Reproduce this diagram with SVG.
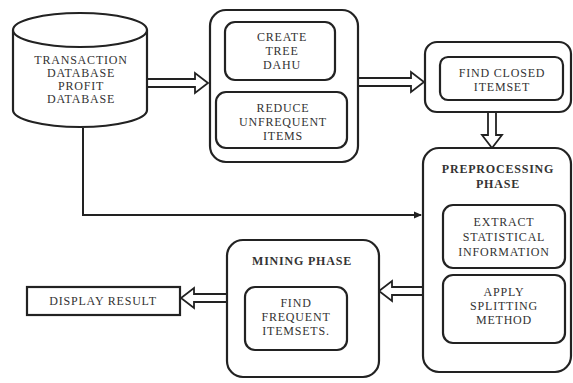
<svg xmlns="http://www.w3.org/2000/svg" width="573" height="383" viewBox="0 0 573 383">
<style>
.box{fill:#fff;stroke:#222;stroke-width:2.2}
.t{font-family:"Liberation Serif","Times New Roman",serif;font-size:12px;letter-spacing:0.8px;fill:#333;text-anchor:middle}
.b{font-weight:bold}
.ha{fill:#fff;stroke:#222;stroke-width:1.8;stroke-linejoin:miter}
.ln{fill:none;stroke:#222;stroke-width:2}
</style>
<defs>
<marker id="ah" markerWidth="8" markerHeight="8" refX="7" refY="4" orient="auto" markerUnits="userSpaceOnUse">
<path d="M0,0.5 L8,4 L0,7.5 Z" fill="#222"/>
</marker>
</defs>
<rect width="573" height="383" fill="#fff"/>
<g id="connectors">
<path class="ln" d="M83,128 V215 H421" marker-end="url(#ah)"/>
<polygon class="ha" points="147,79 195,79 195,73 208,83 195,93 195,87 147,87"/>
<polygon class="ha" points="358,78 411,78 411,72 424,82 411,92 411,86 358,86"/>
<polygon class="ha" points="488,112 496,112 496,135 502,135 492,148 482,135 488,135"/>
<polygon class="ha" points="423,287 392,287 392,281 379,291 392,301 392,295 423,295"/>
<polygon class="ha" points="227,294 194,294 194,288 181,298 194,308 194,302 227,302"/>
</g>
<g id="db">
<path class="box" d="M13,30 V110 A67,17 0 0 0 147,110 V30"/>
<ellipse class="box" cx="80" cy="30" rx="67" ry="17"/>
<text class="t" x="81" y="64">TRANSACTION</text>
<text class="t" x="81" y="77">DATABASE</text>
<text class="t" x="81" y="90">PROFIT</text>
<text class="t" x="81" y="103">DATABASE</text>
</g>
<g id="box1">
<rect class="box" x="210" y="10" width="148" height="152" rx="16"/>
<g id="create">
<rect class="box" x="225" y="22" width="110" height="58" rx="10"/>
<text class="t" x="282" y="41">CREATE</text>
<text class="t" x="282" y="55">TREE</text>
<text class="t" x="282" y="69">DAHU</text>
</g>
<g id="reduce">
<rect class="box" x="216" y="92" width="131" height="56" rx="10"/>
<text class="t" x="283" y="112">REDUCE</text>
<text class="t" x="283" y="126">UNFREQUENT</text>
<text class="t" x="283" y="140">ITEMS</text>
</g>
</g>
<g id="closed">
<rect class="box" x="425" y="42" width="146" height="70" rx="12"/>
<rect class="box" x="440" y="57" width="123" height="43" rx="8"/>
<text class="t" x="502" y="77">FIND CLOSED</text>
<text class="t" x="502" y="91">ITEMSET</text>
</g>
<g id="prep">
<rect class="box" x="423" y="148" width="148" height="224" rx="16"/>
<text class="t b" x="498" y="173">PREPROCESSING</text>
<text class="t b" x="498" y="188">PHASE</text>
<g id="extract">
<rect class="box" x="443" y="205" width="122" height="63" rx="10"/>
<text class="t" x="504" y="226">EXTRACT</text>
<text class="t" x="504" y="241">STATISTICAL</text>
<text class="t" x="504" y="256">INFORMATION</text>
</g>
<g id="apply">
<rect class="box" x="443" y="275" width="122" height="68" rx="10"/>
<text class="t" x="504" y="296">APPLY</text>
<text class="t" x="504" y="310">SPLITTING</text>
<text class="t" x="504" y="324">METHOD</text>
</g>
</g>
<g id="mining">
<rect class="box" x="227" y="240" width="152" height="137" rx="16"/>
<text class="t b" x="302" y="265">MINING PHASE</text>
<rect class="box" x="245" y="287" width="102" height="63" rx="10"/>
<text class="t" x="296" y="307">FIND</text>
<text class="t" x="296" y="321">FREQUENT</text>
<text class="t" x="296" y="335">ITEMSETS.</text>
</g>
<g id="display">
<rect class="box" x="27" y="287" width="153" height="28"/>
<text class="t" x="103" y="305">DISPLAY RESULT</text>
</g>
</svg>
